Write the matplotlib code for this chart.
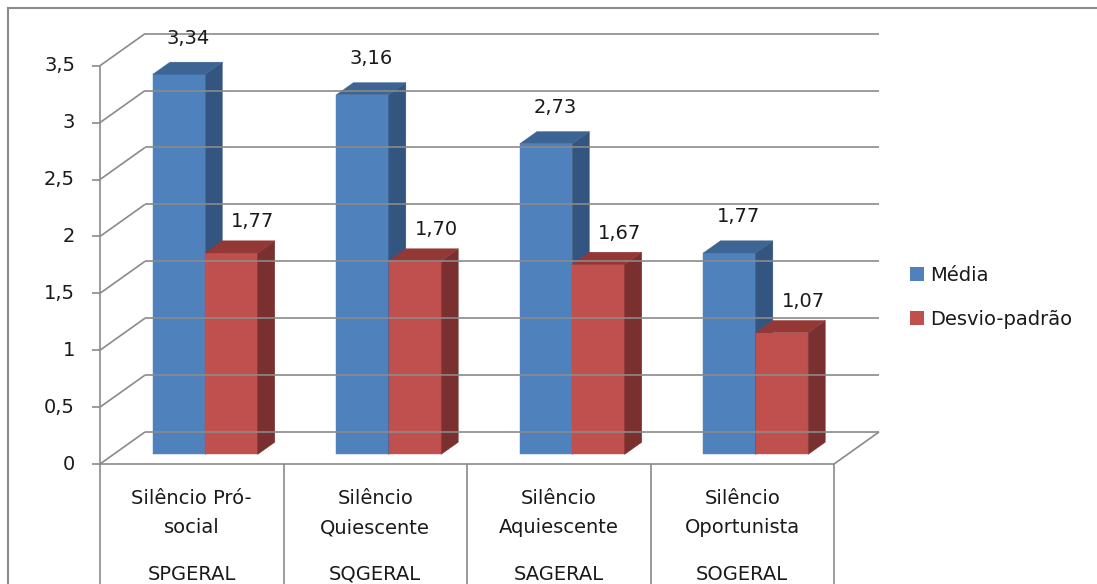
import matplotlib
matplotlib.use("Agg")
import matplotlib.pyplot as plt
from matplotlib.patches import Polygon, Patch
from matplotlib.lines import Line2D

# ---------------------------------------------------------------
# dados
# ---------------------------------------------------------------
categorias = ["Silêncio Pró-\nsocial", "Silêncio\nQuiescente",
              "Silêncio\nAquiescente", "Silêncio\nOportunista"]
codigos = ["SPGERAL", "SQGERAL", "SAGERAL", "SOGERAL"]
media = [3.34, 3.16, 2.73, 1.77]
desvio = [1.77, 1.70, 1.67, 1.07]
rotulos_media = ["3,34", "3,16", "2,73", "1,77"]
rotulos_desvio = ["1,77", "1,70", "1,67", "1,07"]
series = ["Média", "Desvio-padrão"]
y_ticks = [0, 0.5, 1, 1.5, 2, 2.5, 3, 3.5]
y_ticklabels = ["0", "0,5", "1", "1,5", "2", "2,5", "3", "3,5"]

# cores (frente, lado, topo)
AZUL = ("#4f81bd", "#34557f", "#3c6594")
VERM = ("#c0504d", "#7a302f", "#943836")
GRADE = "#8a8a8a"
TEXTO = "#1a1a1a"

W, H = 1097, 584
fig = plt.figure(figsize=(W / 100, H / 100), dpi=100)
ax = fig.add_axes([0, 0, 1, 1])
ax.set_axis_off()

# escala: 1 categoria = 183.5 px, 1 unidade = 113.8 px, origem em (100, 464)
CX, VY = 183.5, 113.8
OX, OY = 100, 464
ax.set_xlim(-OX / CX, (W - OX) / CX)
ax.set_ylim(-(H - OY) / VY, OY / VY)

# profundidade total da caixa 3D (em unidades de dados)
DX, DY = 45 / CX, 32 / VY
D0, D1 = 0.30, 0.68          # profundidade das barras
BW = 1 / 3.5                  # largura da barra (gap 150%)
n = len(media)
ymax = y_ticks[-1]


def proj(x, v, d):
    return (x + d * DX, v + d * DY)


kw = dict(color=GRADE, lw=1.2, solid_capstyle="butt")

# parede de fundo (grade) + parede esquerda
for v, lab in zip(y_ticks, y_ticklabels):
    p0, p1 = proj(0, v, 0), proj(0, v, 1)
    p2 = proj(n, v, 1)
    ax.plot([p1[0], p2[0]], [p1[1], p2[1]], **kw)
    ax.plot([p0[0], p1[0]], [p0[1], p1[1]], **kw)
    # marcas do eixo
    ax.plot([-8 / CX, 0], [v, v], **kw)
    ax.annotate(lab, (0, v), xytext=(-25, 0),
                textcoords="offset pixels", ha="right", va="center",
                fontsize=14, color=TEXTO)

# eixo vertical e piso
ax.plot([0, 0], [0, ymax], **kw)
ax.plot([0, n], [0, 0], **kw)
a, b = proj(n, 0, 0), proj(n, 0, 1)
ax.plot([a[0], b[0]], [a[1], b[1]], **kw)

# tabela de categorias abaixo do piso
ylow = ax.get_ylim()[0]
for i in range(n + 1):
    ax.plot([i, i], [0, ylow], **kw)
for i in range(n):
    ax.annotate(categorias[i], (i + 0.5, 0), xytext=(0, -49),
                textcoords="offset pixels", ha="center", va="center",
                fontsize=14, color=TEXTO, linespacing=1.7)
    ax.annotate(codigos[i], (i + 0.5, 0), xytext=(0, -110),
                textcoords="offset pixels", ha="center", va="center",
                fontsize=14, color=TEXTO)


def barra3d(x0, v, cores):
    x1 = x0 + BW
    frente = [proj(x0, 0, D0), proj(x1, 0, D0), proj(x1, v, D0), proj(x0, v, D0)]
    lado = [proj(x1, 0, D0), proj(x1, 0, D1), proj(x1, v, D1), proj(x1, v, D0)]
    topo = [proj(x0, v, D0), proj(x1, v, D0), proj(x1, v, D1), proj(x0, v, D1)]
    for pts, c in zip([frente, lado, topo], cores):
        ax.add_patch(Polygon(pts, closed=True, facecolor=c, edgecolor=c, lw=0.3))


for i in range(n):
    xb = i + 0.75 * BW
    barra3d(xb, media[i], AZUL)
    barra3d(xb + BW, desvio[i], VERM)
    px, py = proj(xb + BW / 2, media[i], D0)
    ax.annotate(rotulos_media[i], (px, py), xytext=(9, 36),
                textcoords="offset pixels", ha="center", va="center",
                fontsize=14, color=TEXTO)
    px, py = proj(xb + 1.5 * BW, desvio[i], D0)
    ax.annotate(rotulos_desvio[i], (px, py), xytext=(21, 31),
                textcoords="offset pixels", ha="center", va="center",
                fontsize=14, color=TEXTO)

# legenda
handles = [Patch(facecolor=AZUL[0]), Patch(facecolor=VERM[0])]
fig.legend(handles, series, loc="center left",
           bbox_to_anchor=(910 / W, 1 - 297.5 / H), frameon=False,
           fontsize=14, handlelength=0.72, handleheight=0.72,
           handletextpad=0.3, labelspacing=1.3, borderpad=0,
           borderaxespad=0, labelcolor=TEXTO)

# borda da área do gráfico
fig.add_artist(Line2D([8 / W, 1], [1 - 8 / H, 1 - 8 / H],
                      transform=fig.transFigure, color="#8a8a8a", lw=1.5))
fig.add_artist(Line2D([8 / W, 8 / W], [0, 1 - 8 / H],
                      transform=fig.transFigure, color="#8a8a8a", lw=1.5))

fig.savefig("out.png", dpi=100)
